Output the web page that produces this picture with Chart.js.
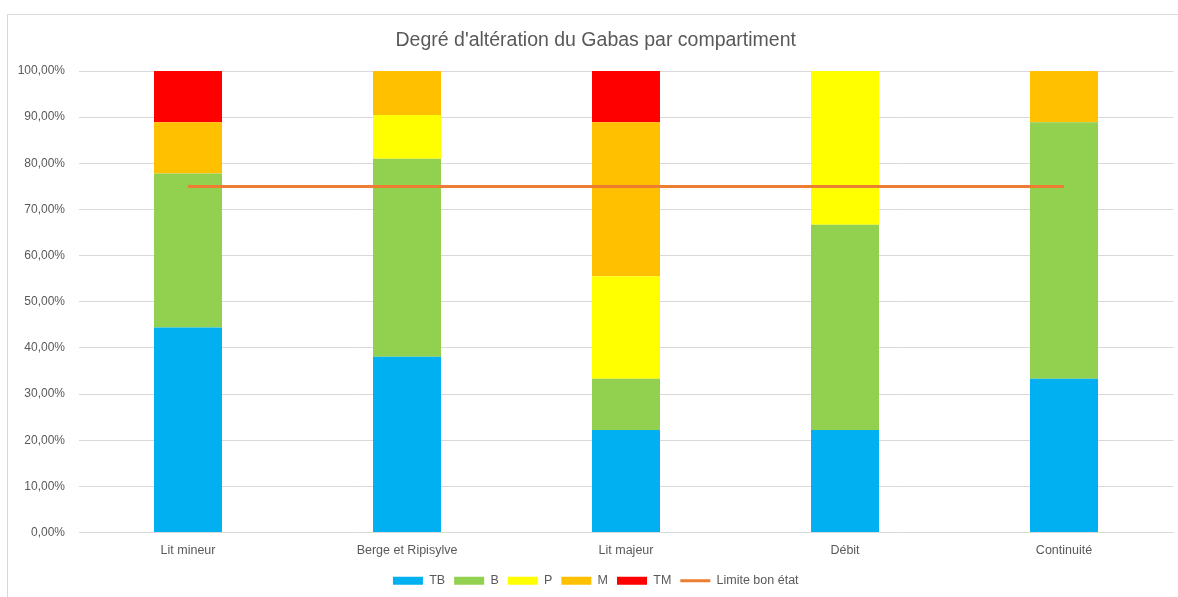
<!DOCTYPE html>
<html lang="fr">
<head>
<meta charset="utf-8">
<title>Degré d'altération du Gabas par compartiment</title>
<script src="https://cdn.jsdelivr.net/npm/chart.js@4/dist/chart.umd.min.js"></script>
<style>
  html, body { margin: 0; padding: 0; background: #ffffff; overflow: hidden; }
  #frame {
    position: absolute; left: 7px; top: 14px; width: 1300px; height: 800px;
    border-left: 1px solid #d9d9d9; border-top: 1px solid #d9d9d9;
  }
  #chart { position: absolute; left: 0; top: 0; }
</style>
</head>
<body>
<div id="frame"></div>
<canvas id="chart" width="1178" height="597"></canvas>
<script>
// Compartiments évalués
const categories = ['Lit mineur', 'Berge et Ripisylve', 'Lit majeur', 'Débit', 'Continuité'];

// Part de chaque classe d'altération (%)
const tb = [44.44, 38.10, 22.22, 22.22, 33.33];
const b  = [33.33, 42.86, 11.11, 44.44, 55.56];
const p  = [0,      9.52, 22.22, 33.33,  0];
const m  = [11.11,  9.52, 33.33,  0,    11.11];
const tm = [11.11,  0,    11.11,  0,     0];

// Seuil du bon état (%)
const limite = [75, 75, 75, 75, 75];

const yTicks = [0, 10, 20, 30, 40, 50, 60, 70, 80, 90, 100];

const TEXT = '#595959';
const GRID = '#d9d9d9';
const FONT = "'Liberation Sans', Arial, sans-serif";

const barStyle = (label, data, color) => ({
  type: 'bar',
  label,
  data,
  backgroundColor: color,
  borderWidth: 0,
  barPercentage: 1,
  categoryPercentage: 0.3105,
  order: 1
});

new Chart(document.getElementById('chart'), {
  data: {
    labels: categories,
    datasets: [
      barStyle('TB', tb, '#00b0f0'),
      barStyle('B', b, '#92d050'),
      barStyle('P', p, '#ffff00'),
      barStyle('M', m, '#ffc000'),
      barStyle('TM', tm, '#ff0000'),
      {
        type: 'line',
        label: 'Limite bon état',
        data: limite,
        borderColor: '#ed7d31',
        backgroundColor: '#ed7d31',
        borderWidth: 3,
        pointRadius: 0,
        pointHoverRadius: 0,
        fill: false,
        order: 0
      }
    ]
  },
  options: {
    responsive: false,
    animation: false,
    devicePixelRatio: 1,
    layout: { padding: { left: 18, right: 4.5, top: 0, bottom: 0 } },
    plugins: {
      tooltip: { enabled: false },
      title: {
        display: true,
        text: "Degré d'altération du Gabas par compartiment",
        color: TEXT,
        font: { family: FONT, size: 19.5, weight: 'normal', lineHeight: 1.2 },
        padding: { top: 29, bottom: 18.6 }
      },
      legend: {
        position: 'bottom',
        labels: {
          color: TEXT,
          font: { family: FONT, size: 12.5 },
          usePointStyle: true,
          pointStyleWidth: 30,
          boxHeight: 8,
          padding: 9,
          sort: (a, c) => a.datasetIndex - c.datasetIndex,
          generateLabels(chart) {
            const items = Chart.defaults.plugins.legend.labels.generateLabels(chart);
            items.forEach(it => {
              const ds = chart.data.datasets[it.datasetIndex];
              if (ds.type === 'line') {
                it.pointStyle = 'line';
                it.strokeStyle = ds.borderColor;
                it.lineWidth = 3;
              } else {
                it.pointStyle = 'rect';
                it.lineWidth = 0;
              }
            });
            return items;
          }
        }
      }
    },
    scales: {
      x: {
        stacked: true,
        grid: { display: false, drawTicks: false },
        border: { display: false },
        ticks: { color: TEXT, font: { family: FONT, size: 12.5 }, padding: 11, maxRotation: 0 },
        afterFit(scale) { scale.height = 33; }
      },
      y: {
        stacked: true,
        min: 0,
        max: 100,
        afterBuildTicks(scale) { scale.ticks = yTicks.map(v => ({ value: v })); },
        grid: { color: GRID, lineWidth: 1, drawTicks: false },
        border: { display: false },
        ticks: {
          color: TEXT,
          font: { family: FONT, size: 12 },
          padding: 13.5,
          callback: v => v.toFixed(2).replace('.', ',') + '%'
        },
        afterFit(scale) { scale.width = 60.5; }
      }
    }
  }
});
</script>
</body>
</html>
